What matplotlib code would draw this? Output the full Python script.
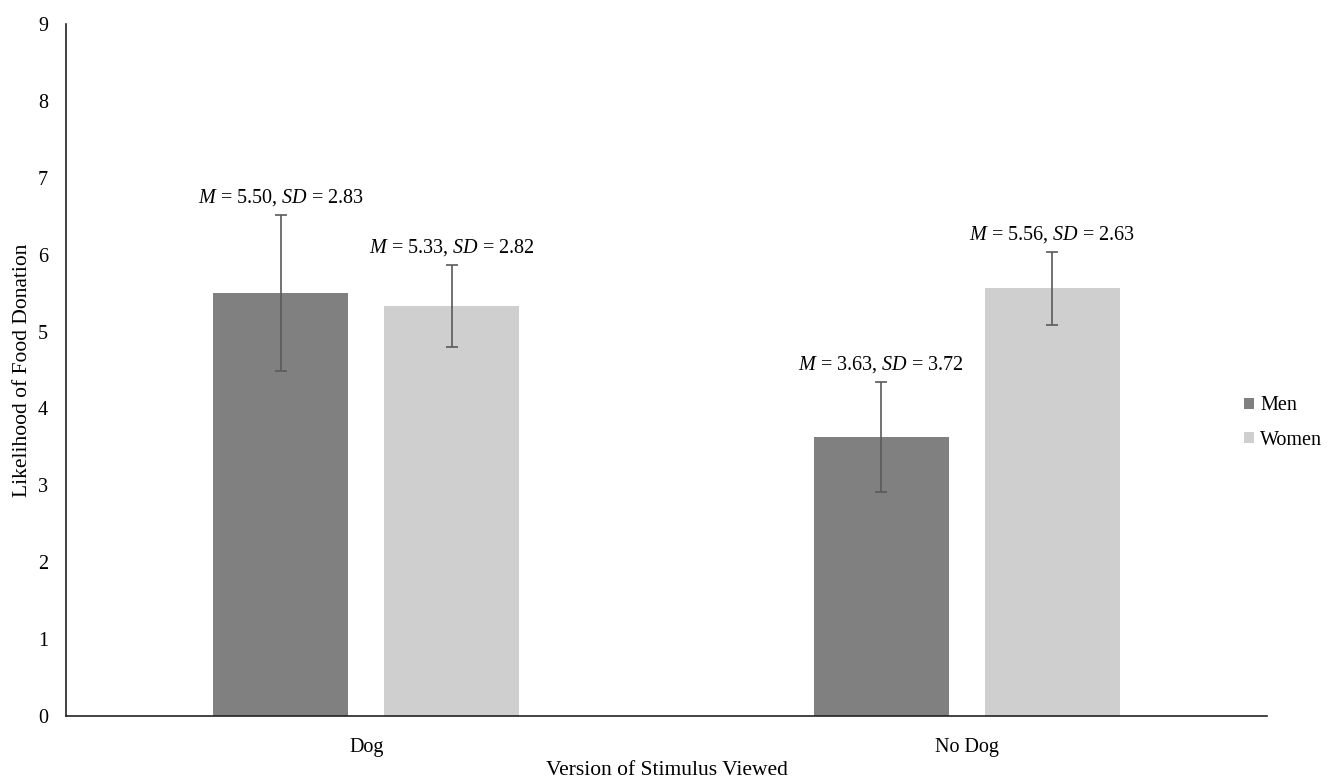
import numpy as np
import matplotlib
matplotlib.use("Agg")
import matplotlib.pyplot as plt

plt.rcParams['font.family'] = ['Liberation Serif', 'DejaVu Serif']
plt.rcParams['mathtext.fontset'] = 'custom'
plt.rcParams['mathtext.rm'] = 'Liberation Serif'
plt.rcParams['mathtext.it'] = 'Liberation Serif:italic'

# data
categories = ['Dog', 'No Dog']
groups = ['Men', 'Women']
means = {'Men': [5.50, 3.63], 'Women': [5.33, 5.56]}
sds = {'Men': [2.83, 3.72], 'Women': [2.82, 2.63]}
errs = {'Men': [1.01, 0.72], 'Women': [0.53, 0.48]}
colors = {'Men': '#808080', 'Women': '#d0cfd0'}

fig = plt.figure(figsize=(13.38, 7.81), dpi=100)
ax = fig.add_axes([66 / 1338, 65 / 781, (1267 - 66) / 1338, (716 - 24) / 781])

x = np.arange(len(categories))
width = 0.225
offsets = {'Men': -0.1425, 'Women': 0.1425}

for g in groups:
    pos = x + offsets[g]
    ax.bar(pos, means[g], width, color=colors[g], label=g, zorder=2)
    ax.errorbar(pos, means[g], yerr=errs[g], fmt='none', ecolor='#5a5a5a',
                elinewidth=1.2, capsize=4, capthick=1.2, zorder=3)
    for p, m, s, e in zip(pos, means[g], sds[g], errs[g]):
        ax.annotate(r'$M$ = %.2f, $SD$ = %.2f' % (m, s), xy=(p, m + e),
                    xytext=(0, 7), textcoords='offset pixels',
                    ha='center', va='bottom', fontsize=14.5)

ax.set_xlim(-0.5, 1.5)
ax.set_ylim(0, 9)
ax.set_yticks(range(10))
ax.set_xticks(x)
ax.set_xticklabels(categories)
ax.tick_params(axis='both', length=0, labelsize=14.5)
ax.tick_params(axis='y', pad=13)
ax.tick_params(axis='x', pad=16)
for side in ['top', 'right']:
    ax.spines[side].set_visible(False)
for side in ['left', 'bottom']:
    ax.spines[side].set_color('#222222')
    ax.spines[side].set_linewidth(1.2)

ax.set_ylabel('Likelihood of Food Donation', fontsize=15.5, labelpad=4)
ax.set_xlabel('Version of Stimulus Viewed', fontsize=15.5, labelpad=3)

fig.legend(loc='center left', bbox_to_anchor=(1226 / 1338, 1 - 423 / 781),
           frameon=False, fontsize=14.5, handlelength=0.5, handleheight=0.5,
           handletextpad=0.3, labelspacing=0.75)

fig.savefig('out.png', dpi=100)
